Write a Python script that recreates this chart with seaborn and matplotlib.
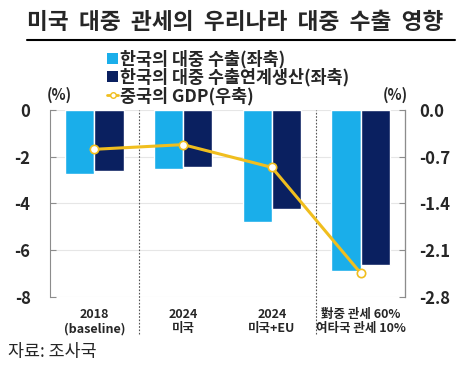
import numpy as np
import pandas as pd
import matplotlib
matplotlib.use("Agg")
import matplotlib.pyplot as plt
import seaborn as sns
from matplotlib.patches import Patch
from matplotlib.lines import Line2D

# Data
categories = ["2018\n(baseline)", "2024\n미국", "2024\n미국+EU", "對중 관세 60%\n여타국 관세 10%"]
korea_export = [-2.75, -2.53, -4.8, -6.9]
korea_linked = [-2.6, -2.45, -4.25, -6.64]
china_gdp = [-0.59, -0.52, -0.86, -2.44]
series_names = ["한국의 대중 수출(좌축)", "한국의 대중 수출연계생산(좌축)", "중국의 GDP(우축)"]

light_blue = "#1AAEEA"
navy = "#0A2060"
yellow = "#F0BE1E"

df = pd.DataFrame({
    "category": categories * 2,
    "value": korea_export + korea_linked,
    "series": [series_names[0]] * 4 + [series_names[1]] * 4,
})

sns.set_style("white")
plt.rcParams["font.family"] = ["Noto Sans CJK KR", "DejaVu Sans"]

fig = plt.figure(figsize=(4.67, 3.75), dpi=100)
ax = fig.add_axes([0.107, 0.208, 0.76, 0.499])

sns.barplot(data=df, x="category", y="value", hue="series",
            palette=[light_blue, navy], width=0.66, saturation=1,
            ax=ax, legend=False)

ax.set_ylim(-8, 0)
ax.set_xlim(-0.5, 3.5)
ax.set_yticks([0, -2, -4, -6, -8])
ax.set_yticklabels(["0", "-2", "-4", "-6", "-8"], fontsize=12, fontweight="bold")
ax.set_xlabel("")
ax.set_ylabel("")
ax.yaxis.grid(True, color="#e6e6e6", linewidth=0.8)
ax.set_axisbelow(True)
for s in ["top", "bottom"]:
    ax.spines[s].set_visible(False)
ax.spines["left"].set_color("#8c8c8c")
ax.tick_params(axis="y", direction="in", length=4, color="#8c8c8c", pad=14)
ax.tick_params(axis="x", length=0, pad=8)
ax.set_xticks(range(len(categories)))
ax.set_xticklabels(categories, fontsize=9, fontweight="bold", linespacing=1.1)

# dotted separators
for xv in [0.5, 2.5]:
    ax.axvline(xv, ymin=-0.2, ymax=1.0, color="#555555", linestyle=(0, (1.5, 1.5)),
               linewidth=0.8, clip_on=False)

# right axis with GDP line
ax2 = ax.twinx()
sns.lineplot(x=np.arange(len(categories)), y=china_gdp, ax=ax2, color=yellow,
             linewidth=2.2, marker="o", markersize=6, markerfacecolor="white",
             markeredgecolor=yellow, markeredgewidth=1.2)
ax2.set_ylim(-2.8, 0)
ax2.set_yticks([0, -0.7, -1.4, -2.1, -2.8])
ax2.set_yticklabels(["0.0", "-0.7", "-1.4", "-2.1", "-2.8"], fontsize=12, fontweight="bold")
for s in ["top", "bottom", "left"]:
    ax2.spines[s].set_visible(False)
ax2.spines["right"].set_color("#8c8c8c")
ax2.tick_params(axis="y", direction="in", length=4, color="#8c8c8c", pad=10)
ax2.set_xlim(-0.5, 3.5)

# unit labels
fig.text(0.128, 0.733, "(%)", fontsize=10.5, fontweight="bold", ha="center")
fig.text(0.846, 0.733, "(%)", fontsize=10.5, fontweight="bold", ha="center")

# title with underline
fig.text(0.503, 0.94, "미국  대중  관세의  우리나라  대중  수출  영향", fontsize=16.3,
         fontweight="bold", ha="center", va="center")
fig.add_artist(Line2D([0.058, 0.974], [0.893, 0.893], color="black", linewidth=1.5))

# legend
handles = [
    Patch(facecolor=light_blue, edgecolor="none"),
    Patch(facecolor=navy, edgecolor="none"),
    Line2D([0], [0], color=yellow, linewidth=2, marker="o", markersize=4,
           markerfacecolor="white", markeredgecolor=yellow),
]
fig.legend(handles, series_names, loc="upper left", bbox_to_anchor=(0.215, 0.886),
           frameon=False, handlelength=0.6, handleheight=0.6,
           handletextpad=0.15, labelspacing=0.0, borderaxespad=0,
           prop={"weight": "bold", "size": 12.5})

# source
fig.text(0.017, 0.06, "자료: 조사국", fontsize=12.5, ha="left", va="center")

fig.savefig("out.png", dpi=100)
